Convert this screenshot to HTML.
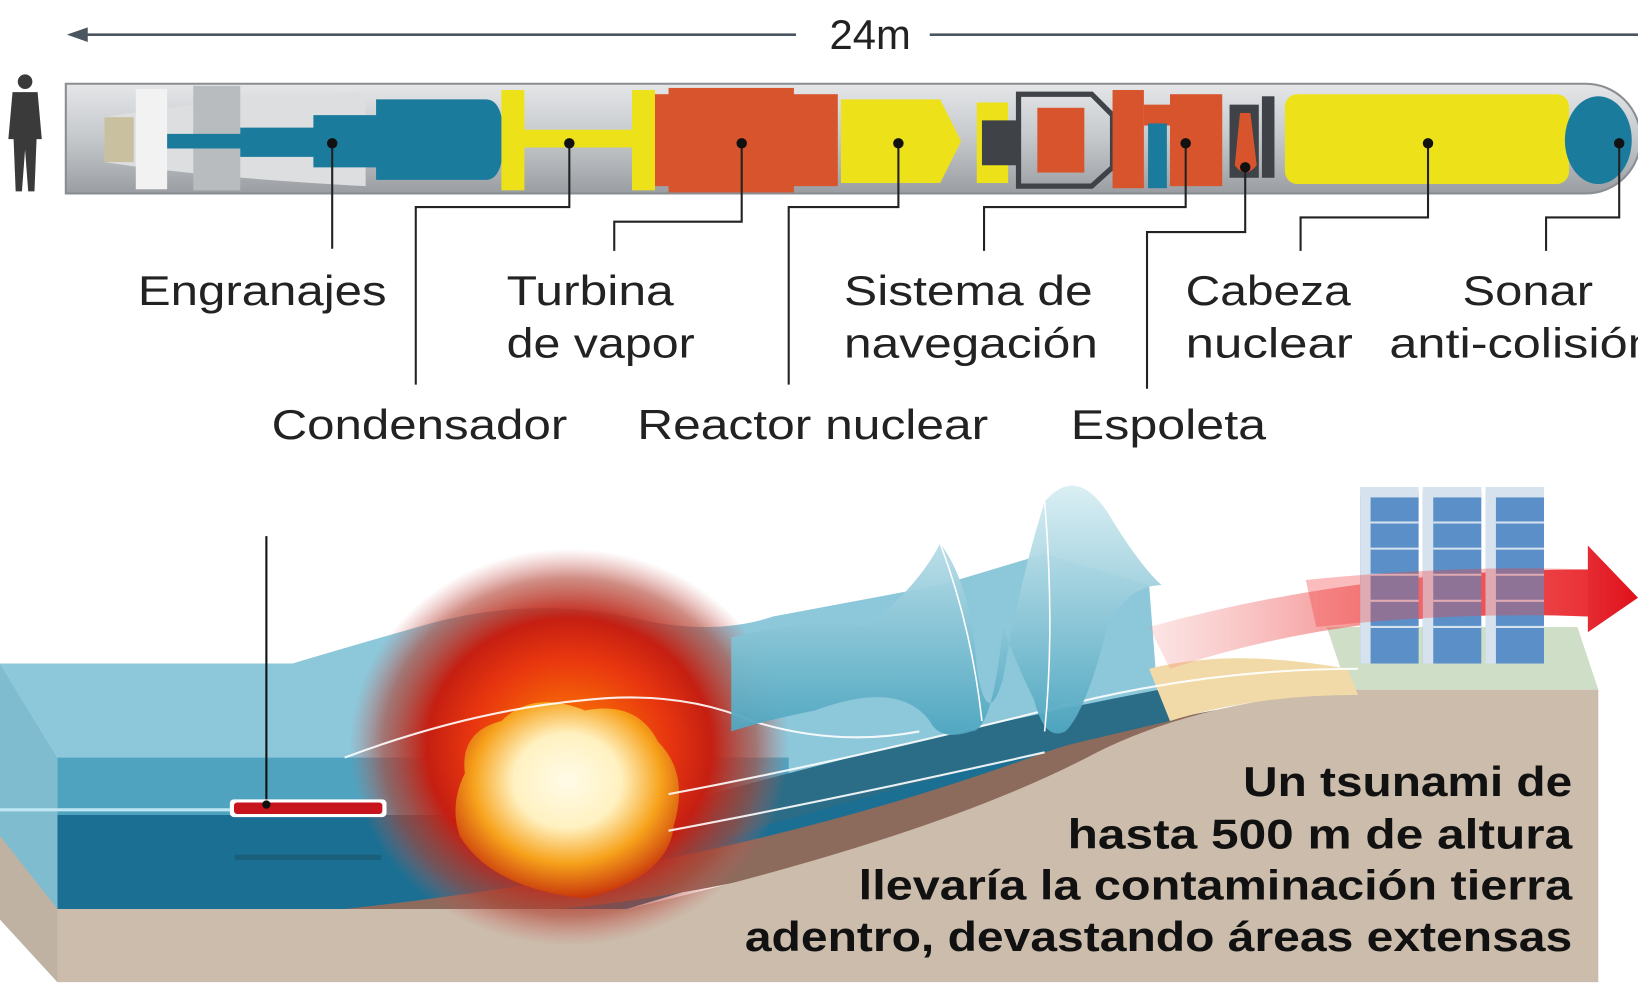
<!DOCTYPE html>
<html><head><meta charset="utf-8"><style>
html,body{margin:0;padding:0;background:#fff;overflow:hidden}
svg{display:block}
text{font-family:"Liberation Sans",sans-serif}
</style></head><body>
<svg width="1638" height="998" viewBox="0 0 1568 955" xmlns="http://www.w3.org/2000/svg">
<defs>
<radialGradient id="glow" cx="0.5" cy="0.5" r="0.5">
<stop offset="0" stop-color="#ff8a00"/><stop offset="0.45" stop-color="#e8360f"/><stop offset="0.65" stop-color="#c51f12"/><stop offset="0.85" stop-color="#b04030" stop-opacity="0.6"/><stop offset="1" stop-color="#d06060" stop-opacity="0"/>
</radialGradient>
<radialGradient id="fire" cx="0.5" cy="0.4" r="0.6">
<stop offset="0" stop-color="#fffbe8"/><stop offset="0.4" stop-color="#fff1c0"/><stop offset="0.7" stop-color="#f7a21b"/><stop offset="1" stop-color="#c8360c"/>
</radialGradient>
<linearGradient id="arrowg" x1="0" x2="1">
<stop offset="0" stop-color="#f08080" stop-opacity="0.2"/><stop offset="0.5" stop-color="#f05050" stop-opacity="0.7"/><stop offset="1" stop-color="#e0101a"/>
</linearGradient>
<linearGradient id="wave" x1="0" x2="0" y1="0" y2="1">
<stop offset="0" stop-color="#d8eef3"/><stop offset="1" stop-color="#4ea6c0"/>
</linearGradient>
<linearGradient id="body" x1="0" x2="0" y1="0" y2="1">
<stop offset="0" stop-color="#e4e6e8"/><stop offset="0.5" stop-color="#c5c8cb"/><stop offset="1" stop-color="#9a9ea2"/>
</linearGradient>
</defs>

<!-- 24m arrow -->
<line x1="70" y1="33" x2="762" y2="33" stroke="#4a5560" stroke-width="2.5"/>
<polygon points="64,33 84,26 84,40" fill="#4a5560"/>
<line x1="890" y1="33" x2="1568" y2="33" stroke="#4a5560" stroke-width="2.5"/>
<text x="833" y="36" font-size="40" text-anchor="middle" dominant-baseline="middle" fill="#222">24m</text>

<!-- man -->
<g fill="#3a3a3a">
<circle cx="24" cy="78" r="7"/>
<path d="M12,88 h24 l4,45 h-5 l-2,50 h-6 l-3,-40 l-3,40 h-6 l-2,-50 h-5 z"/>
</g>

<!-- torpedo body -->
<path d="M63,80 H1518 A52,52 0 0 1 1518,185 H63 Z" fill="url(#body)" stroke="#8a8e92" stroke-width="2"/>
<path d="M100,112 Q200,95 350,88 V178 Q200,170 100,155 Z" fill="#dcdedf"/>
<rect x="100" y="112" width="28" height="43" fill="#c9c0a0"/>
<rect x="130" y="85" width="30" height="96" fill="#f2f2f2"/>
<rect x="185" y="82" width="45" height="100" fill="#b9bcbf"/>
<path d="M160,128 H230 V122 H300 V110 H360 V95 H465 Q482,95 482,133 Q482,172 465,172 H360 V160 H300 V150 H230 V142 H160 Z" fill="#1b7b9c"/>
<rect x="480" y="86" width="22" height="96" fill="#ede21a"/>
<rect x="500" y="124" width="107" height="17" fill="#ede21a"/>
<rect x="605" y="86" width="22" height="96" fill="#ede21a"/>
<rect x="627" y="90" width="175" height="88" fill="#d8542c"/>
<rect x="640" y="84" width="120" height="100" fill="#d8542c"/>
<path d="M805,95 H900 L920,135 L900,175 H805 Z" fill="#ede21a"/>
<path d="M935,98 H965 V175 H935 Z" fill="#ede21a"/>
<path d="M940,115 H975 V158 H940 Z" fill="#3f4246"/>
<path d="M975,90 H1045 L1065,110 V160 L1045,178 H975 Z" fill="none" stroke="#3f4246" stroke-width="5"/>
<rect x="993" y="103" width="45" height="62" fill="#d8542c"/>
<rect x="1065" y="86" width="30" height="94" fill="#d8542c"/>
<rect x="1095" y="100" width="30" height="20" fill="#d8542c"/>
<rect x="1099" y="118" width="18" height="62" fill="#1b7b9c"/>
<rect x="1120" y="90" width="50" height="88" fill="#d8542c"/>
<rect x="1177" y="100" width="28" height="70" fill="#3f4246"/>
<path d="M1187,108 H1197 L1203,158 Q1192,172 1182,158 Z" fill="#d8542c"/>
<rect x="1208" y="92" width="12" height="78" fill="#3f4246"/>
<rect x="1230" y="90" width="272" height="86" rx="12" fill="#ede21a"/>
<ellipse cx="1530" cy="134" rx="32" ry="42" fill="#1b7b9c"/>

<g stroke="#222" stroke-width="2" fill="none">
<path d="M318,137 V238"/>
<path d="M545,137 V198 H398 V368"/>
<path d="M710,137 V212 H588 V240"/>
<path d="M860,137 V198 H755 V368"/>
<path d="M1135,137 V198 H942 V240"/>
<path d="M1192,160 V222 H1098 V372"/>
<path d="M1367,137 V208 H1245 V240"/>
<path d="M1550,137 V208 H1480 V240"/>
</g>
<g fill="#111">
<circle cx="318" cy="137" r="5"/><circle cx="545" cy="137" r="5"/><circle cx="710" cy="137" r="5"/><circle cx="860" cy="137" r="5"/><circle cx="1135" cy="137" r="5"/><circle cx="1192" cy="160" r="5"/><circle cx="1367" cy="137" r="5"/><circle cx="1550" cy="137" r="5"/>
</g>

<g font-size="40" fill="#222">
<text x="132" y="292" textLength="238" lengthAdjust="spacingAndGlyphs">Engranajes</text>
<text x="485" y="292" textLength="160" lengthAdjust="spacingAndGlyphs">Turbina</text>
<text x="485" y="342" textLength="180" lengthAdjust="spacingAndGlyphs">de vapor</text>
<text x="808" y="292" textLength="238" lengthAdjust="spacingAndGlyphs">Sistema de</text>
<text x="808" y="342" textLength="243" lengthAdjust="spacingAndGlyphs">navegación</text>
<text x="1135" y="292" textLength="158" lengthAdjust="spacingAndGlyphs">Cabeza</text>
<text x="1135" y="342" textLength="160" lengthAdjust="spacingAndGlyphs">nuclear</text>
<text x="1400" y="292" textLength="125" lengthAdjust="spacingAndGlyphs">Sonar</text>
<text x="1330" y="342" textLength="255" lengthAdjust="spacingAndGlyphs">anti-colisión</text>
<text x="260" y="420" textLength="283" lengthAdjust="spacingAndGlyphs">Condensador</text>
<text x="610" y="420" textLength="336" lengthAdjust="spacingAndGlyphs">Reactor nuclear</text>
<text x="1025" y="420" textLength="187" lengthAdjust="spacingAndGlyphs">Espoleta</text>
</g>

<!-- scene -->
<path d="M0,635 H280 Q330,620 400,600 Q500,570 600,590 Q680,610 740,590 L900,560 L1000,530 L1100,560 L1110,690 Q900,730 700,760 L330,725 L55,725 Z" fill="#8cc7da"/>
<path d="M0,635 L55,725 V940 L0,880 Z" fill="#7fbcd0"/>
<path d="M0,800 L55,870 V940 L0,880 Z" fill="#bfb2a3"/>
<rect x="55" y="725" width="700" height="55" fill="#4fa3bf"/>
<path d="M55,780 H500 L700,760 Q900,720 1110,680 L1110,700 Q900,780 600,870 H55 Z" fill="#1b6f92"/>
<path d="M330,870 Q700,830 1000,720 Q1120,680 1300,660 L1300,680 Q1100,700 900,790 Q650,880 330,880 Z" fill="#8c6a5c"/>
<path d="M680,760 Q900,700 1110,660 L1120,690 Q900,740 700,800 Z" fill="#2b6d86"/>
<path d="M55,870 H600 Q900,800 1050,720 Q1150,670 1300,660 H1530 V940 H55 Z" fill="#cbbcab"/>
<path d="M1270,600 H1510 L1530,660 H1290 Z" fill="#cfdec6"/>
<path d="M1100,640 Q1180,620 1290,640 L1300,665 Q1200,665 1120,690 Z" fill="#f2d9a8"/>
<ellipse cx="545" cy="715" rx="210" ry="190" fill="url(#glow)"/>
<path d="M445,740 Q440,700 480,690 Q510,660 560,680 Q610,670 630,710 Q660,740 645,790 Q640,840 560,860 Q470,850 440,800 Q430,770 445,740 Z" fill="url(#fire)"/>
<g stroke="#fff" stroke-width="2" fill="none" opacity="0.9">
<path d="M330,725 Q450,680 560,670 Q650,660 720,690 Q800,715 880,700"/>
<path d="M640,760 Q800,730 1000,680 Q1150,640 1300,640"/>
<path d="M640,795 Q800,765 1000,720"/>
</g>
<path d="M700,610 Q780,590 830,600 Q880,560 900,520 Q930,560 935,640 Q945,700 960,650 Q975,560 1000,480 Q1030,445 1060,490 Q1090,540 1112,560 Q1080,560 1060,600 Q1040,680 1020,700 Q1000,710 990,670 Q975,640 960,600 Q950,700 930,700 Q900,710 890,690 Q860,650 780,680 Q730,690 700,700 Z" fill="url(#wave)" opacity="0.95"/>
<path d="M900,520 Q930,600 940,690 M1000,480 Q1010,600 1000,700" stroke="#fff" stroke-width="1.5" fill="none"/>
<path d="M1100,600 Q1300,545 1520,545 V522 L1568,572 L1520,605 V590 Q1300,580 1120,640 Z" fill="url(#arrowg)"/>
<g>
<rect x="1302" y="470" width="56" height="165" fill="#5b8fc7"/>
<rect x="1362" y="470" width="56" height="165" fill="#5b8fc7"/>
<rect x="1422" y="470" width="56" height="165" fill="#5b8fc7"/>
<g fill="#d6e3ef">
<rect x="1302" y="470" width="10" height="165"/><rect x="1362" y="470" width="10" height="165"/><rect x="1422" y="470" width="10" height="165"/>
<rect x="1302" y="466" width="56" height="10"/><rect x="1362" y="466" width="56" height="10"/><rect x="1422" y="466" width="56" height="10"/>
</g>
<g stroke="#d6e3ef" stroke-width="2">
<path d="M1312,500 H1358 M1312,525 H1358 M1312,550 H1358 M1312,575 H1358 M1312,600 H1358 M1372,500 H1418 M1372,525 H1418 M1372,550 H1418 M1372,575 H1418 M1372,600 H1418 M1432,500 H1478 M1432,525 H1478 M1432,550 H1478 M1432,575 H1478 M1432,600 H1478"/>
</g>
</g>
<path d="M1250,555 Q1400,540 1520,545 V590 Q1400,585 1260,600 Z" fill="#f04040" opacity="0.35"/>
<line x1="255" y1="513" x2="255" y2="770" stroke="#111" stroke-width="2"/>
<line x1="0" y1="775" x2="220" y2="775" stroke="#bfe6f2" stroke-width="3"/>
<rect x="220" y="765" width="150" height="17" rx="4" fill="#fff"/>
<rect x="224" y="768" width="142" height="11" rx="3" fill="#c8141c"/>
<circle cx="255" cy="770" r="4" fill="#111"/>
<rect x="225" y="818" width="140" height="5" fill="#1a5a70" opacity="0.7"/>

<g font-size="40" font-weight="bold" fill="#111" text-anchor="end">
<text x="1505" y="762" textLength="315" lengthAdjust="spacingAndGlyphs">Un tsunami de</text>
<text x="1505" y="812" textLength="483" lengthAdjust="spacingAndGlyphs">hasta 500 m de altura</text>
<text x="1505" y="861" textLength="683" lengthAdjust="spacingAndGlyphs">llevaría la contaminación tierra</text>
<text x="1505" y="910" textLength="792" lengthAdjust="spacingAndGlyphs">adentro, devastando áreas extensas</text>
</g>
</svg>
</body></html>
